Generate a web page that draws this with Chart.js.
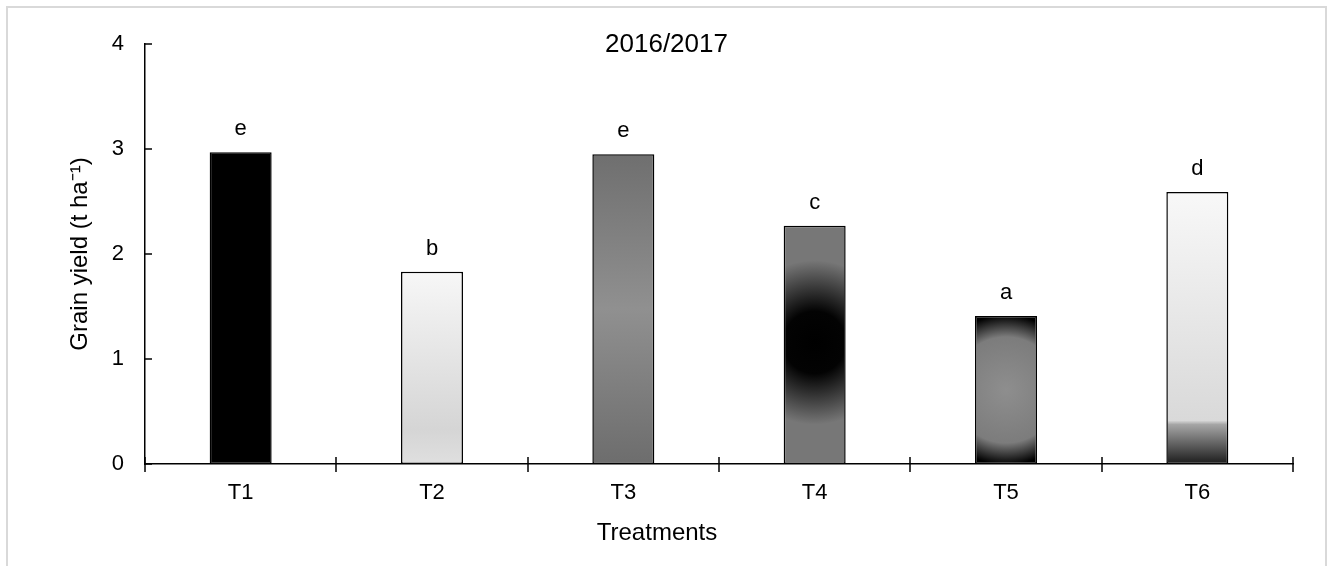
<!DOCTYPE html>
<html>
<head>
<meta charset="utf-8">
<script src="https://cdn.jsdelivr.net/npm/chart.js@4.4.1/dist/chart.umd.min.js"></script>
<style>
  html, body { margin: 0; padding: 0; background: #ffffff; overflow: hidden; }
  #wrap { width: 1333px; height: 566px; position: relative; }
</style>
</head>
<body>
<div id="wrap"><canvas id="c" width="1333" height="566"></canvas></div>
<script>
// Grain yield per treatment, 2016/2017 season
const treatments = ['T1', 'T2', 'T3', 'T4', 'T5', 'T6'];
const grainYield = [2.97, 1.83, 2.95, 2.27, 1.41, 2.59];
const significance = ['e', 'b', 'e', 'c', 'a', 'd'];
const yTicks = [0, 1, 2, 3, 4];
const chartTitle = '2016/2017';
const xAxisTitle = 'Treatments';
const yAxisTitle = 'Grain yield (t ha\u207B\u00B9)';

// Fill style for each bar (solid, vertical ramp or radial shading)
const barShades = [
  { type: 'solid', color: '#000000' },
  { type: 'linear', stops: [[0, '#f7f7f7'], [0.82, '#d5d5d5'], [1, '#dfdfdf']] },
  { type: 'linear', stops: [[0, '#6f6f6f'], [0.5, '#909090'], [1, '#6d6d6d']] },
  { type: 'radial', cy: 0.49, r: 82, stops: [[0, '#000000'], [0.38, '#030303'], [1, '#777777']] },
  { type: 'radial', cy: 0.5, r: 78, stops: [[0, '#8e8e8e'], [0.68, '#7c7c7c'], [0.96, '#000000']] },
  { type: 'linear', stops: [[0, '#f8f8f8'], [0.84, '#d9d9d9'], [0.855, '#a5a5a5'], [1, '#1b1b1b']] }
];

const FONT = "'Liberation Sans', Arial, Helvetica, sans-serif";
const BAR_PCT = 0.324;

function barFill(ctx) {
  const chart = ctx.chart;
  const i = ctx.dataIndex;
  if (!chart.chartArea || i === undefined) return '#000000';
  const shade = barShades[i];
  if (shade.type === 'solid') return shade.color;
  const xs = chart.scales.x, ys = chart.scales.y;
  const top = ys.getPixelForValue(grainYield[i]);
  const bottom = ys.getPixelForValue(0);
  const cx = xs.getPixelForValue(i);
  let g;
  if (shade.type === 'linear') {
    g = chart.ctx.createLinearGradient(0, top, 0, bottom);
  } else {
    const cy = top + (bottom - top) * shade.cy;
    g = chart.ctx.createRadialGradient(cx, cy, 0, cx, cy, shade.r);
  }
  shade.stops.forEach(([o, c]) => g.addColorStop(o, c));
  return g;
}

const decor = {
  id: 'decor',
  beforeDraw(chart) {
    const c = chart.ctx;
    c.save();
    c.fillStyle = '#ffffff';
    c.fillRect(0, 0, chart.width, chart.height);
    c.strokeStyle = '#d9d9d9';
    c.lineWidth = 2;
    c.strokeRect(7, 7, chart.width - 14, chart.height + 40);
    c.restore();
  },
  afterDraw(chart) {
    const c = chart.ctx;
    const xs = chart.scales.x, ys = chart.scales.y;
    const area = chart.chartArea;
    c.save();
    c.strokeStyle = '#000000';
    c.lineWidth = 1.5;
    // category boundary ticks crossing the x axis
    const base = ys.getPixelForValue(0);
    for (let k = 0; k <= treatments.length; k++) {
      const px = Math.round(xs.getPixelForValue(k - 0.5));
      c.beginPath();
      c.moveTo(px, base - 7);
      c.lineTo(px, base + 8);
      c.stroke();
    }
    // inside ticks on the y axis
    yTicks.forEach(v => {
      const py = ys.getPixelForValue(v);
      c.beginPath();
      c.moveTo(area.left - 1, py);
      c.lineTo(area.left + 7, py);
      c.stroke();
    });
    // significance letters above bars
    c.fillStyle = '#000000';
    c.font = '22px ' + FONT;
    c.textAlign = 'center';
    c.textBaseline = 'alphabetic';
    const meta = chart.getDatasetMeta(0);
    meta.data.forEach((el, i) => {
      c.fillText(significance[i], el.x, el.y - 17);
    });
    // x axis title, centred on the page rather than the plot
    c.font = '24px ' + FONT;
    c.fillText(xAxisTitle, 657, 540);
    // season title
    c.font = '26px ' + FONT;
    c.fillText(chartTitle, chart.width / 2, 52);
    c.restore();
  }
};

new Chart(document.getElementById('c'), {
  type: 'bar',
  data: {
    labels: treatments,
    datasets: [{
      data: grainYield,
      backgroundColor: barFill,
      borderColor: '#000000',
      borderWidth: 1.5,
      borderSkipped: false,
      barPercentage: BAR_PCT,
      categoryPercentage: 1
    }]
  },
  options: {
    responsive: false,
    devicePixelRatio: 1,
    animation: false,
    layout: { padding: { left: 0, right: 40, top: 44, bottom: 0 } },
    plugins: {
      legend: { display: false },
      tooltip: { enabled: false },
      title: { display: false }
    },
    scales: {
      x: {
        type: 'category',
        offset: true,
        grid: { display: false, drawTicks: false },
        border: { display: true, color: '#000000', width: 1.5 },
        ticks: { color: '#000000', font: { family: FONT, size: 22 }, padding: 16 },
        title: { display: false },
        afterFit(s) { s.height = 102; }
      },
      y: {
        min: 0, max: 4,
        grid: { display: false, drawTicks: false },
        border: { display: true, color: '#000000', width: 1.5 },
        ticks: { stepSize: 1, color: '#000000', font: { family: FONT, size: 22 }, padding: 21 },
        title: {
          display: true, text: yAxisTitle, color: '#000000',
          font: { family: FONT, size: 24 }, padding: { top: 66, bottom: 0 }
        },
        afterFit(s) { s.width = 145; }
      }
    }
  },
  plugins: [decor]
});
</script>
</body>
</html>
